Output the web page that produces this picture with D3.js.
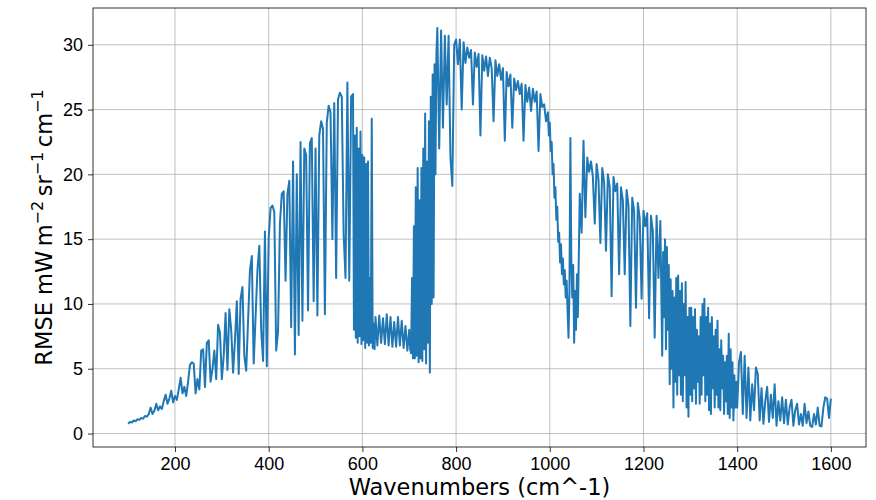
<!DOCTYPE html>
<html>
<head>
<meta charset="utf-8">
<script src="https://cdn.jsdelivr.net/npm/d3@7"></script>
<style>
  body { margin: 0; background: #fff; }
  svg { display: block; font-family: "DejaVu Sans", sans-serif; }
  .grid line { stroke: #b0b0b0; stroke-width: 0.8; }
  .axis path, .axis line { stroke: #000; stroke-width: 0.8; }
  .axis text { font-size: 18px; fill: #000; }
</style>
</head>
<body>
<svg width="876" height="500"></svg>
<script>
// [wavenumber (cm^-1), RMSE], split by band
var band100to400 = [
  [100,0.75],[104,0.9],[108,0.85],[112,1.0],[116,0.95],[120,1.1],[124,1.05],[128,1.2],[132,1.15],[136,1.35],
  [140,1.3],[144,1.5],[148,2.0],[152,1.5],[156,1.75],[160,2.3],[164,1.8],[168,2.1],[172,1.9],[176,2.5],
  [180,3.0],[184,2.3],[188,2.7],[192,3.3],[196,2.4],[200,2.9],[204,2.6],[208,3.4],[212,4.3],[216,3.1],
  [220,3.6],[224,2.9],[228,4.0],[232,5.3],[236,5.5],[240,5.4],[244,3.1],[248,4.2],[252,3.4],[256,6.4],
  [260,6.5],[264,3.6],[268,7.0],[272,7.2],[276,4.0],[280,5.0],[284,6.4],[288,4.2],[292,8.4],[296,7.8],
  [300,4.2],[304,6.0],[308,9.3],[312,4.9],[316,9.6],[320,8.0],[324,4.7],[328,7.2],[332,10.2],[336,4.6],
  [340,10.4],[344,11.3],[348,6.0],[352,4.85],[356,8.7],[360,12.6],[364,13.7],[368,5.4],[372,9.0],[376,12.6],
  [380,14.5],[384,8.0],[388,5.6],[392,15.6],[396,5.2]
];
var band400to700 = [
  [400,15.1],[404,17.4],[408,17.6],[412,17.1],[416,6.4],[420,7.9],[424,16.2],[428,18.5],[432,18.7],[436,11.8],
  [440,18.5],[444,19.5],[448,8.2],[452,21.0],[456,6.1],[460,20.0],[464,7.6],[468,22.5],[472,8.7],[476,22.0],
  [480,21.5],[484,9.5],[488,22.4],[492,22.8],[496,10.2],[500,22.0],[504,9.1],[508,23.0],[512,24.1],[516,23.5],
  [520,9.2],[524,24.0],[528,25.3],[532,24.8],[536,15.0],[540,25.5],[544,12.0],[548,25.8],[552,26.3],[556,26.0],
  [560,15.4],[564,12.0],[568,27.1],[572,11.8],[576,26.0],[580,26.2],[582,8.0],[584,23.0],[586,7.4],[588,23.6],
  [590,7.0],[592,22.0],[594,7.5],[596,23.3],[598,6.9],[600,21.5],[602,7.2],[604,21.3],[606,6.6],[608,20.8],
  [610,7.0],[612,21.0],[614,6.8],[616,12.0],[618,7.0],[620,24.3],[622,6.6],[624,8.5],[626,6.5],[628,9.0],
  [632,6.8],[636,9.1],[640,7.0],[644,8.9],[648,6.9],[652,9.2],[656,6.8],[660,9.0],[664,6.7],[668,8.6],
  [672,6.7],[676,9.0],[680,6.8],[684,8.7],[688,6.6],[692,8.3],[696,6.4]
];
var band700to1000 = [
  [700,8.0],[702,6.5],[704,6.2],[706,12.0],[708,5.8],[710,16.0],[712,5.8],[714,19.0],[716,6.0],[718,20.5],
  [720,5.5],[722,18.0],[724,5.8],[726,20.5],[728,5.6],[730,22.0],[732,6.5],[734,24.7],[736,5.4],[738,21.0],
  [740,7.0],[742,24.1],[744,4.7],[746,26.0],[748,10.0],[750,27.7],[752,10.5],[754,28.5],[756,20.0],[758,29.3],
  [760,31.3],[764,22.0],[768,31.1],[772,23.6],[776,30.7],[780,25.4],[784,30.7],[788,21.3],[792,19.1],[796,30.0],
  [800,30.4],[804,28.5],[808,30.4],[812,25.0],[816,30.2],[820,28.6],[824,29.8],[828,29.0],[832,29.6],[836,25.4],
  [840,29.4],[844,28.3],[848,29.3],[852,23.0],[856,29.2],[860,28.0],[864,29.1],[868,27.6],[872,29.0],[876,28.2],
  [880,24.1],[884,28.8],[888,27.6],[892,28.5],[896,27.3],[900,28.2],[904,22.6],[908,27.9],[912,26.8],[916,27.7],
  [920,23.6],[924,27.4],[928,26.5],[932,27.2],[936,26.2],[940,27.0],[944,22.6],[948,26.9],[952,25.6],[956,26.7],
  [960,24.9],[964,26.6],[968,25.6],[972,26.4],[976,21.8],[980,26.2],[984,25.2],[988,25.4],[992,24.1],[996,24.8],
  [998,23.0]
];
var band1000to1300 = [
  [1000,24.0],[1002,21.8],[1004,22.5],[1006,20.0],[1008,20.8],[1010,18.2],[1012,19.0],[1014,16.5],[1016,17.5],[1018,14.8],
  [1020,15.5],[1022,13.2],[1024,14.6],[1026,12.3],[1028,13.5],[1030,11.5],[1032,12.6],[1034,10.5],[1036,11.8],[1038,9.5],
  [1040,7.4],[1042,11.0],[1044,22.8],[1046,13.3],[1048,10.5],[1050,13.0],[1052,7.0],[1054,11.0],[1056,8.0],[1058,12.3],
  [1060,9.0],[1064,18.5],[1068,15.5],[1072,22.6],[1076,16.7],
  [1080,21.3],[1084,20.2],[1088,21.0],[1092,19.8],[1096,16.2],[1100,20.8],[1104,19.6],[1108,14.7],[1112,20.5],[1116,19.4],
  [1120,14.1],[1124,20.0],[1128,19.0],[1132,10.6],[1136,19.8],[1140,18.7],[1144,19.3],[1148,12.3],[1152,19.0],[1156,18.0],
  [1160,12.3],[1164,18.8],[1168,17.6],[1172,8.3],[1176,18.2],[1180,17.2],[1184,9.7],[1188,17.8],[1192,16.6],[1196,10.4],
  [1200,17.2],[1204,16.0],[1208,17.0],[1212,8.9],[1216,16.8],[1220,15.6],[1224,7.4],[1228,16.8],[1232,12.0],[1236,16.4],
  [1240,6.0],[1242,14.0],[1244,9.0],[1246,15.0],[1248,6.5],[1250,14.4],[1252,8.0],[1254,13.0],[1256,3.8],[1258,11.9],
  [1260,5.0],[1262,11.0],[1264,2.0],[1266,10.5],[1268,4.0],[1270,12.0],[1272,3.0],[1274,12.2],[1276,4.5],[1278,11.0],
  [1280,3.0],[1282,11.6],[1284,2.5],[1286,10.0],[1288,4.5],[1290,11.7],[1292,2.0],[1294,9.0],[1296,1.3],[1298,9.7]
];
var band1300to1600 = [
  [1300,3.0],[1302,9.7],[1304,2.5],[1306,9.0],[1308,3.5],[1310,9.6],[1312,2.3],[1314,8.0],[1316,4.0],[1318,7.5],
  [1320,2.3],[1322,9.0],[1324,3.0],[1326,10.0],[1328,4.5],[1330,10.4],[1332,2.5],[1334,9.0],[1336,3.0],[1338,9.7],
  [1340,1.8],[1342,8.5],[1344,1.5],[1346,9.0],[1348,3.5],[1350,7.5],[1352,2.0],[1354,8.0],[1356,3.0],[1358,8.7],
  [1360,2.0],[1362,6.5],[1364,1.8],[1366,7.2],[1368,3.5],[1370,6.0],[1372,1.5],[1374,5.5],[1376,2.5],[1378,6.0],
  [1380,1.5],[1382,7.7],[1384,1.2],[1386,6.5],[1388,2.0],[1390,5.5],[1392,1.0],[1394,4.5],[1396,2.0],[1398,4.0],
  [1400,2.0],[1404,5.5],[1408,6.3],[1412,1.5],[1416,6.0],[1420,1.2],[1424,5.1],[1428,1.0],[1432,3.8],[1436,1.8],
  [1440,5.1],[1444,4.6],[1448,1.0],[1452,3.5],[1456,0.75],[1460,2.5],[1464,3.6],[1468,0.9],[1472,3.0],[1476,1.2],
  [1480,3.8],[1484,0.6],[1488,2.5],[1492,1.0],[1496,2.8],[1500,0.8],[1504,2.6],[1508,0.7],[1512,2.0],[1516,2.6],
  [1520,0.6],[1524,1.8],[1528,2.3],[1532,0.7],[1536,1.5],[1540,0.6],[1544,2.3],[1548,0.8],[1552,1.7],[1556,0.6],
  [1560,0.5],[1564,1.5],[1568,0.7],[1572,2.0],[1576,0.6],[1580,0.55],[1584,2.0],[1588,2.8],[1592,2.7],[1596,1.2],
  [1600,2.7]
];

var xTicks = [200, 400, 600, 800, 1000, 1200, 1400, 1600];
var yTicks = [0, 5, 10, 15, 20, 25, 30];

var spectrum = band100to400.concat(band400to700, band700to1000, band1000to1300, band1300to1600)
  .map(function(d) { return {wn: d[0], rmse: d[1]}; });

var svg = d3.select("svg"),
    margin = {top: 8, right: 10, bottom: 53, left: 93},
    width = svg.attr("width") - margin.left - margin.right,
    height = svg.attr("height") - margin.top - margin.bottom,
    g = svg.append("g").attr("transform", "translate(" + margin.left + "," + margin.top + ")");

// matplotlib style 5% padding on both axes
var xExt = d3.extent(spectrum, function(d) { return d.wn; }),
    yExt = d3.extent(spectrum, function(d) { return d.rmse; }),
    xPad = (xExt[1] - xExt[0]) * 0.05,
    yPad = (yExt[1] - yExt[0]) * 0.05;

var x = d3.scaleLinear().domain([xExt[0] - xPad, xExt[1] + xPad]).range([0, width]),
    y = d3.scaleLinear().domain([yExt[0] - yPad, yExt[1] + yPad]).range([height, 0]);

// grid
g.append("g").attr("class", "grid")
  .selectAll("line").data(xTicks).enter().append("line")
    .attr("x1", function(d) { return x(d); }).attr("x2", function(d) { return x(d); })
    .attr("y1", 0).attr("y2", height);
g.append("g").attr("class", "grid")
  .selectAll("line").data(yTicks).enter().append("line")
    .attr("y1", function(d) { return y(d); }).attr("y2", function(d) { return y(d); })
    .attr("x1", 0).attr("x2", width);

var line = d3.line()
    .x(function(d) { return x(d.wn); })
    .y(function(d) { return y(d.rmse); });

g.append("path")
    .datum(spectrum)
    .attr("fill", "none")
    .attr("stroke", "#1f77b4")
    .attr("stroke-width", 2)
    .attr("stroke-linejoin", "round")
    .attr("d", line);

// frame
g.append("rect")
    .attr("width", width).attr("height", height)
    .attr("fill", "none").attr("stroke", "#000").attr("stroke-width", 0.8);

g.append("g")
    .attr("class", "axis")
    .attr("transform", "translate(0," + height + ")")
    .call(d3.axisBottom(x).tickValues(xTicks).tickSize(5).tickPadding(5).tickFormat(d3.format("d")))
    .call(function(a) { a.select(".domain").remove(); });

g.append("g")
    .attr("class", "axis")
    .call(d3.axisLeft(y).tickValues(yTicks).tickSize(5).tickPadding(5).tickFormat(d3.format("d")))
    .call(function(a) { a.select(".domain").remove(); });

svg.append("text")
    .attr("x", margin.left + width / 2)
    .attr("y", 495)
    .attr("text-anchor", "middle")
    .style("font-size", "22.5px")
    .text("Wavenumbers (cm^-1)");

var ylab = svg.append("text")
    .attr("transform", "translate(52," + (margin.top + height / 2) + ") rotate(-90)")
    .attr("text-anchor", "middle")
    .style("font-size", "22.5px");
ylab.append("tspan").text("RMSE mW\u2009m");
ylab.append("tspan").attr("dy", -9).style("font-size", "16px").text("\u22122");
ylab.append("tspan").attr("dy", 9).text("\u2009sr");
ylab.append("tspan").attr("dy", -9).style("font-size", "16px").text("\u22121");
ylab.append("tspan").attr("dy", 9).text("\u2009cm");
ylab.append("tspan").attr("dy", -9).style("font-size", "16px").text("\u22121");
</script>
</body>
</html>
